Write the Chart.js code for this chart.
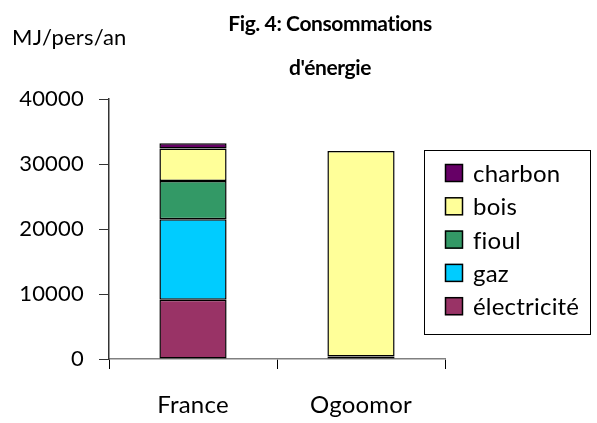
<!DOCTYPE html>
<html>
<head>
<meta charset="utf-8">
<script src="https://cdn.jsdelivr.net/npm/chart.js@4"></script>
<style>
  html, body { margin: 0; padding: 0; background: #fff; }
  #wrap { width: 597px; height: 423px; position: relative; }
</style>
</head>
<body>
<div id="wrap"><canvas id="energyChart" width="597" height="423"></canvas></div>
<script>
const countries = ["France", "Ogoomor"];
const electricite = [9100, 400];
const gaz = [12400, 0];
const fioul = [5900, 0];
const bois = [5000, 31600];
const charbon = [800, 0];
const yTicks = [0, 10000, 20000, 30000, 40000];

const FONT = "Lato, 'DejaVu Sans', sans-serif";

// title, unit label and boxed legend drawn on top of the chart
const decorations = {
  id: "decorations",
  beforeDraw(chart) {
    chart.ctx.letterSpacing = "0.2px"; // also stops the fi / ti ligatures
  },
  afterDraw(chart) {
    const c = chart.ctx;
    c.save();
    c.fillStyle = "#000";
    c.textAlign = "center";
    c.textBaseline = "alphabetic";
    c.letterSpacing = "-0.4px";
    c.font = "bold 21px " + FONT;
    c.fillText("Fig. 4: Consommations", 330, 31);
    c.fillText("d'énergie", 330, 75);

    c.textAlign = "left";
    c.letterSpacing = "0.2px";
    c.font = "22px " + FONT;
    c.fillText("MJ/pers/an", 12, 45);

    // legend box
    c.strokeStyle = "#000";
    c.lineWidth = 1;
    c.strokeRect(424.5, 150.5, 166, 184);
    const items = chart.data.datasets.slice().reverse();
    items.forEach((ds, i) => {
      const y = 173 + i * 33.3;
      c.fillStyle = ds.backgroundColor;
      c.fillRect(445, y - 9, 18, 18);
      c.lineWidth = 1.5;
      c.strokeRect(445.5, y - 8.5, 17, 17);
      c.fillStyle = "#000";
      c.font = "24px " + FONT;
      c.fillText(ds.label, 473, y + 9);
    });
    c.restore();
  }
};

const mk = (label, data, color) => ({
  label, data,
  backgroundColor: color,
  borderColor: "#000",
  borderWidth: 1.5,
  borderSkipped: false,
  barPercentage: 0.4,
  categoryPercentage: 1
});

new Chart(document.getElementById("energyChart"), {
  type: "bar",
  data: {
    labels: countries,
    datasets: [
      mk("électricité", electricite, "#993366"),
      mk("gaz", gaz, "#00CCFF"),
      mk("fioul", fioul, "#339966"),
      mk("bois", bois, "#FFFF99"),
      mk("charbon", charbon, "#660066")
    ]
  },
  options: {
    responsive: false,
    animation: false,
    layout: { padding: { top: 99, right: 152, bottom: 0, left: 0 } },
    plugins: { legend: { display: false }, title: { display: false }, tooltip: { enabled: false } },
    scales: {
      x: {
        stacked: true,
        afterFit: s => { s.height = 64; },
        border: { color: "#808080", width: 1.5 },
        grid: { offset: true, drawOnChartArea: false, drawTicks: true, tickLength: 10, color: "#000" },
        ticks: { color: "#000", padding: 22, font: { family: FONT, size: 24 } }
      },
      y: {
        stacked: true,
        min: 0, max: 40000,
        afterFit: s => { s.width = 109; },
        afterBuildTicks: s => { s.ticks = yTicks.map(v => ({ value: v })); },
        border: { color: "#333", width: 1.5 },
        grid: { drawOnChartArea: false, drawTicks: true, tickLength: 10, color: "#333" },
        ticks: { color: "#000", padding: 15, font: { family: FONT, size: 22 }, callback: v => String(v) }
      }
    }
  },
  plugins: [decorations]
});
</script>
</body>
</html>
